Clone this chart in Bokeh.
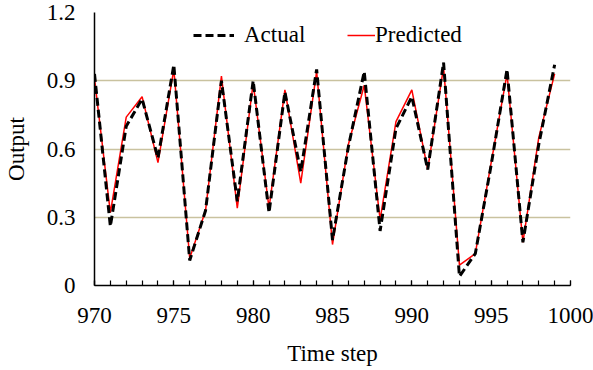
from bokeh.plotting import figure
from bokeh.models import Range1d, FixedTicker, Legend, LegendItem, CustomJSTickFormatter
from bokeh.embed import file_html
from bokeh.resources import INLINE

# ---- data ----
time_step = list(range(970, 1000))
actual = [0.93, 0.26, 0.70, 0.82, 0.56, 0.97, 0.11, 0.33, 0.90, 0.37,
          0.90, 0.32, 0.85, 0.50, 0.95, 0.20, 0.61, 0.94, 0.24, 0.69,
          0.83, 0.51, 0.98, 0.04, 0.14, 0.53, 0.95, 0.19, 0.62, 0.97]
predicted = [0.91, 0.32, 0.74, 0.83, 0.54, 0.95, 0.12, 0.33, 0.92, 0.34,
             0.89, 0.34, 0.86, 0.45, 0.94, 0.18, 0.62, 0.88, 0.29, 0.72,
             0.86, 0.51, 0.96, 0.09, 0.14, 0.54, 0.93, 0.19, 0.65, 0.93]
x_ticks = [970, 975, 980, 985, 990, 995, 1000]
x_minor = list(range(970, 1001))
y_ticks = [0, 0.3, 0.6, 0.9, 1.2]

FONT = "Liberation Serif"
FS = "23px"

p = figure(width=593, height=370, output_backend="svg", toolbar_location=None,
           x_range=Range1d(970, 1000), y_range=Range1d(0, 1.2),
           min_border_left=93, min_border_right=23, min_border_top=12, min_border_bottom=85)
p.outline_line_color = None
p.background_fill_color = "white"
p.border_fill_color = "white"

r_pred = p.line(time_step, predicted, line_color="#ff0000", line_width=1.5)
r_act = p.line(time_step, actual, line_color="black", line_width=3, line_dash="8 4")

# grid
p.xgrid.grid_line_color = None
p.ygrid.grid_line_color = "#c9c29f"
p.ygrid.grid_line_width = 1.5

# x axis
xa = p.xaxis[0]
xa.ticker = FixedTicker(ticks=x_ticks, minor_ticks=x_minor)
xa.axis_line_color = "black"
xa.axis_line_width = 1.5
xa.major_tick_in = 5
xa.major_tick_out = 0
xa.minor_tick_in = 5
xa.minor_tick_out = 0
xa.major_tick_line_color = "black"
xa.minor_tick_line_color = "black"
xa.major_tick_line_width = 1.2
xa.minor_tick_line_width = 1.2
xa.major_label_text_font = FONT
xa.major_label_text_font_size = FS
xa.major_label_text_color = "black"
xa.major_label_standoff = 22
xa.axis_label = "Time step"
xa.axis_label_text_font = FONT
xa.axis_label_text_font_size = FS
xa.axis_label_text_font_style = "normal"
xa.axis_label_text_color = "black"
xa.axis_label_standoff = 15

# y axis
ya = p.yaxis[0]
ya.ticker = FixedTicker(ticks=y_ticks)
ya.formatter = CustomJSTickFormatter(code="return tick == 0 ? '0' : tick.toFixed(1);")
ya.axis_line_color = "black"
ya.axis_line_width = 1.5
ya.major_tick_in = 0
ya.major_tick_out = 0
ya.minor_tick_in = 0
ya.minor_tick_out = 0
ya.major_label_text_font = FONT
ya.major_label_text_font_size = FS
ya.major_label_text_color = "black"
ya.major_label_standoff = 19
ya.axis_label = "Output"
ya.axis_label_text_font = FONT
ya.axis_label_text_font_size = FS
ya.axis_label_text_font_style = "normal"
ya.axis_label_text_color = "black"
ya.axis_label_standoff = 15


def make_legend(label, renderer, loc, gw, standoff):
    lg = Legend(items=[LegendItem(label=label, renderers=[renderer])],
                location=loc, orientation="horizontal",
                glyph_width=gw, glyph_height=26, label_height=26,
                label_standoff=standoff, padding=0, margin=0, spacing=0,
                border_line_color=None, background_fill_alpha=0,
                label_text_font=FONT, label_text_font_size=FS,
                label_text_color="black")
    p.add_layout(lg, "center")


make_legend("Actual", r_act, (99, 237), 41, 10)
make_legend("Predicted", r_pred, (253, 237), 28, 0)

open("out.html", "w").write(file_html(p, INLINE))
